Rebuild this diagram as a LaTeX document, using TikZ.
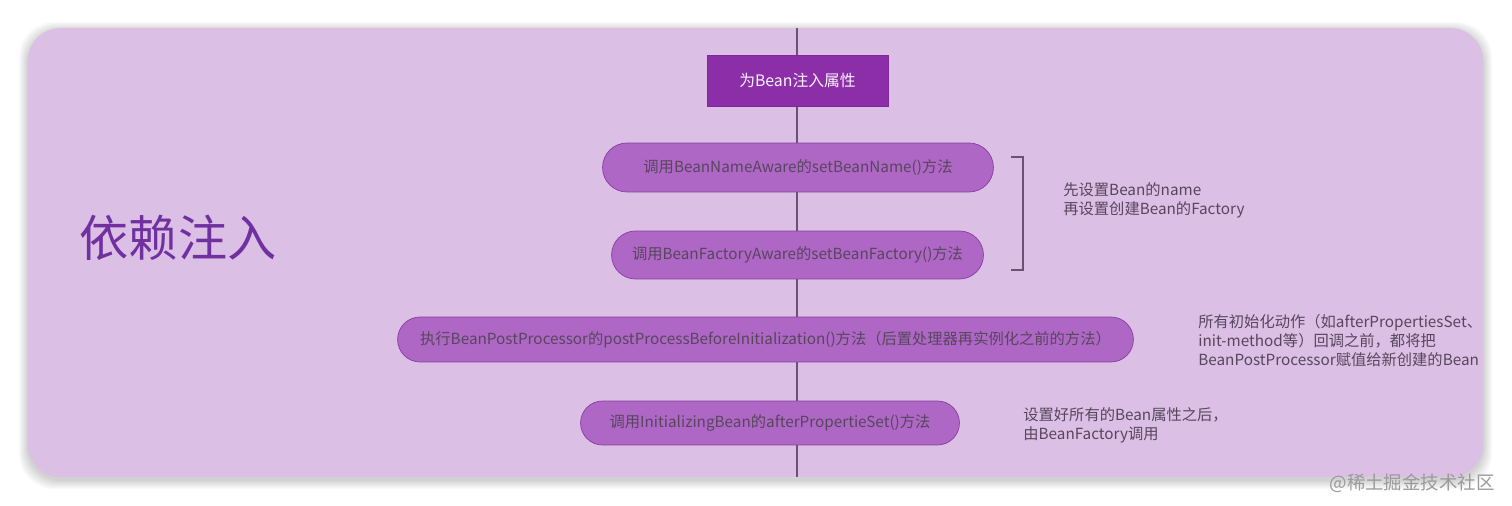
\documentclass[tikz,border=0pt]{standalone}
\usepackage{fontspec}
\setmainfont{Noto Sans CJK SC}
\usepackage{xcolor}
\definecolor{DIpanel}{HTML}{DBBFE5}
\definecolor{DIhead}{HTML}{8C2EA8}
\definecolor{DIpill}{HTML}{AE67C5}
\definecolor{DIedge}{HTML}{8A3C9F}
\definecolor{DItext}{HTML}{57465D}
\definecolor{DIspine}{HTML}{6A5272}
\definecolor{DItitle}{HTML}{7030A0}
\definecolor{DIwater}{HTML}{9A9A9A}
\usepackage{tikz}
\usetikzlibrary{
  positioning, backgrounds, shapes.misc
}

\tikzset{
  pill/.style={rounded rectangle, draw=DIedge, fill=DIpill, text=DItext,
    inner xsep=2pt, font=\fontsize{8.7pt}{10.5pt}\selectfont},
  headbox/.style={rectangle, draw=DIhead!90!black, fill=DIhead, text=white!92!DIpill,
    minimum width=36.2mm, minimum height=10.2mm, font=\fontsize{9pt}{11pt}\selectfont},
  note/.style={anchor=west, align=left, inner sep=0pt, text=DItext,
    font=\fontsize{8.7pt}{10.8pt}\selectfont}
}

\begin{document}
\begin{tikzpicture}[x=0.02cm, y=-0.02cm]
    \useasboundingbox (0,0) rectangle (1512,506);
    % Steps
    \node[headbox] (inject) at (797.5,80.5) {为Bean注入属性};
    \node[pill, minimum width=79.6mm, minimum height=9.8mm] (nameaware) at (798,167.5)
      {调用BeanNameAware的setBeanName()方法};
    \node[pill, minimum width=75.8mm, minimum height=9.6mm] (factoryaware) at (797.5,255)
      {调用BeanFactoryAware的setBeanFactory()方法};
    \node[pill, minimum width=148.6mm, minimum height=9mm] (beforeinit) at (765.5,339.5)
      {执行BeanPostProcessor的postProcessBeforeInitialization()方法（后置处理器再实例化之前的方法）};
    \node[pill, minimum width=77.2mm, minimum height=8.8mm] (afterprop) at (770,423)
      {调用InitializingBean的afterPropertieSet()方法};
    % Notes
    \draw[DIspine, thick] (1011,157) -- (1023,157) -- (1023,270) -- (1011,270);
    \node[note] (awarenote) at (1063,200) {先设置Bean的name\\再设置创建Bean的Factory};
    \node[note] (beforenote) at (1198,341)
      {所有初始化动作（如afterPropertiesSet、\\init-method等）回调之前，都将把\\BeanPostProcessor赋值给新创建的Bean};
    \node[note] (afternote) at (1023,425) {设置好所有的Bean属性之后，\\由BeanFactory调用};
    \node[text=DItitle, font=\fontsize{28pt}{30pt}\selectfont] (title) at (178,238) {依赖注入};
    \node[anchor=east, inner sep=0pt, text=DIwater, font=\fontsize{10.5pt}{12pt}\selectfont]
      (mark) at (1495,483) {@稀土掘金技术社区};
    % Panel and spine
    \begin{scope}[on background layer]
      \fill[white] (0,0) rectangle (1512,506);
      \foreach \s in {1,...,9}
        \fill[black, opacity=0.018, rounded corners=7mm]
          (28-\s,28-\s+3) rectangle (1483+\s,477+\s+3);
      \fill[DIpanel, rounded corners=6.5mm] (28,28) rectangle (1483,477);
      \coordinate (spinetop) at (797,28);
      \coordinate (spinebot) at (797,477);
      \draw[DIspine, thick] (spinetop) -- (spinebot);
    \end{scope}
  \end{tikzpicture}
\end{document}
